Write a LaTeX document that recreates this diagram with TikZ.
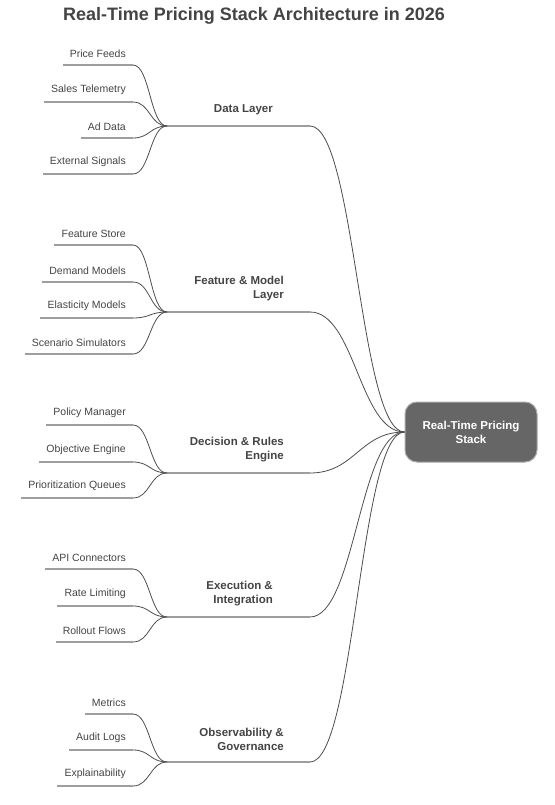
\documentclass[tikz,border=0pt]{standalone}
\usepackage{fontspec}
\setmainfont{Liberation Sans}
\definecolor{inkgray}{HTML}{444444}
\definecolor{wiregray}{HTML}{4D4D4D}
\definecolor{undergray}{HTML}{9E9E9E}
\definecolor{rootgray}{HTML}{666666}
\definecolor{edgegray}{HTML}{A8A8A8}

\begin{document}
\begin{tikzpicture}[x=1pt,y=-1pt,
  leaf/.style={anchor=south east,inner xsep=7pt,inner ysep=7.5pt,text=inkgray,font=\fontsize{10.5}{12}\selectfont},
  grp/.style={anchor=south east,align=right,inner sep=0pt,text=inkgray,font=\bfseries\fontsize{11.5}{14}\selectfont},
  under/.style={draw=undergray,line width=1.4pt},
  wire/.style={draw=wiregray,line width=0.8pt}]
  \useasboundingbox (0,0) rectangle (554,805);
  \node[anchor=base,text=inkgray,font=\bfseries\fontsize{18}{22}\selectfont] (title) at (254,21) {Real-Time Pricing Stack Architecture in 2026};
  \node[draw=edgegray,line width=1pt,fill=rootgray,rounded corners=12pt,minimum width=132pt,minimum height=60pt,
    text=white,align=center,font=\bfseries\fontsize{11.5}{14}\selectfont] (stack) at (471,432) {Real-Time Pricing\\Stack};
  % data layer
  \coordinate (dataj) at (167,126);
  \coordinate (datab) at (310,126);
  \draw[under] (dataj) -- (datab);
  \draw[wire] (datab) .. controls +(45,0) and +(-45,0) .. (stack.west);
  \node[grp] (data) at (273,115) {Data Layer};
  \foreach \lbl/\yy in {Price Feeds/65, Sales Telemetry/102, Ad Data/138, External Signals/174} {
    \node[leaf] (leaf\yy) at (133,\yy) {\lbl};
    \draw[under] (leaf\yy.south west) -- (leaf\yy.south east);
    \draw[wire] (leaf\yy.south east) .. controls +(17,0) and +(-17,0) .. (dataj);
  }
  % feature & model layer
  \coordinate (featj) at (167,312);
  \coordinate (featb) at (310,312);
  \draw[under] (featj) -- (featb);
  \draw[wire] (featb) .. controls +(45,0) and +(-45,0) .. (stack.west);
  \node[grp] (feat) at (284,301) {Feature \& Model\\Layer};
  \foreach \lbl/\yy in {Feature Store/245, Demand Models/282, Elasticity Models/318, Scenario Simulators/354} {
    \node[leaf] (leaf\yy) at (133,\yy) {\lbl};
    \draw[under] (leaf\yy.south west) -- (leaf\yy.south east);
    \draw[wire] (leaf\yy.south east) .. controls +(17,0) and +(-17,0) .. (featj);
  }
  % decision & rules engine
  \coordinate (decj) at (167,473);
  \coordinate (decb) at (310,473);
  \draw[under] (decj) -- (decb);
  \draw[wire] (decb) .. controls +(45,0) and +(-45,0) .. (stack.west);
  \node[grp] (dec) at (284,462) {Decision \& Rules\\Engine};
  \foreach \lbl/\yy in {Policy Manager/425, Objective Engine/462, Prioritization Queues/498} {
    \node[leaf] (leaf\yy) at (133,\yy) {\lbl};
    \draw[under] (leaf\yy.south west) -- (leaf\yy.south east);
    \draw[wire] (leaf\yy.south east) .. controls +(17,0) and +(-17,0) .. (decj);
  }
  % execution & integration
  \coordinate (execj) at (167,617);
  \coordinate (execb) at (310,617);
  \draw[under] (execj) -- (execb);
  \draw[wire] (execb) .. controls +(45,0) and +(-45,0) .. (stack.west);
  \node[grp] (exec) at (273,606) {Execution \&\\Integration};
  \foreach \lbl/\yy in {API Connectors/569, Rate Limiting/606, Rollout Flows/642} {
    \node[leaf] (leaf\yy) at (133,\yy) {\lbl};
    \draw[under] (leaf\yy.south west) -- (leaf\yy.south east);
    \draw[wire] (leaf\yy.south east) .. controls +(17,0) and +(-17,0) .. (execj);
  }
  % observability & governance
  \coordinate (obsj) at (167,762);
  \coordinate (obsb) at (310,762);
  \draw[under] (obsj) -- (obsb);
  \draw[wire] (obsb) .. controls +(45,0) and +(-45,0) .. (stack.west);
  \node[grp] (obs) at (284,751) {Observability \&\\Governance};
  \foreach \lbl/\yy in {Metrics/714, Audit Logs/750, Explainability/786} {
    \node[leaf] (leaf\yy) at (133,\yy) {\lbl};
    \draw[under] (leaf\yy.south west) -- (leaf\yy.south east);
    \draw[wire] (leaf\yy.south east) .. controls +(17,0) and +(-17,0) .. (obsj);
  }
\end{tikzpicture}
\end{document}
